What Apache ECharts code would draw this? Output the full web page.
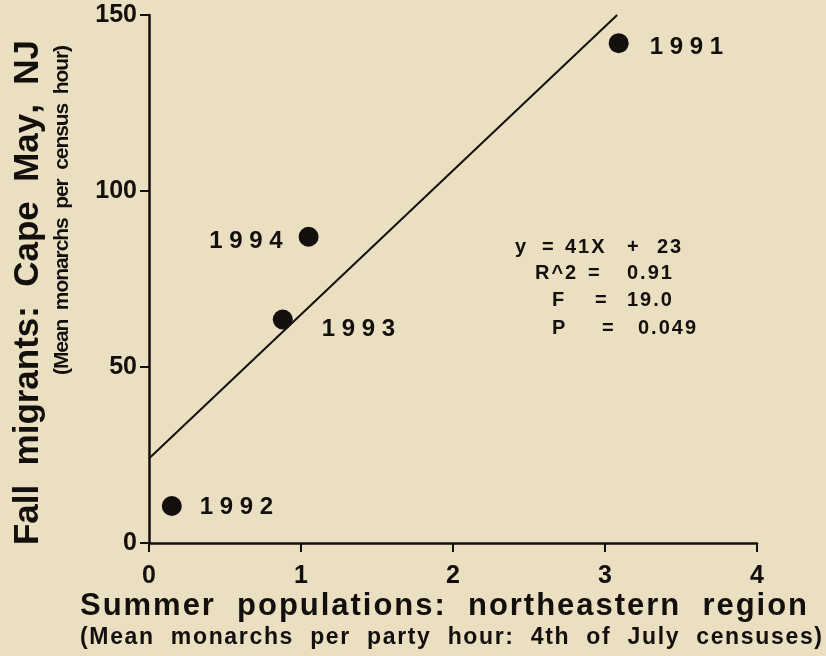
<!DOCTYPE html>
<html>
<head>
<meta charset="utf-8">
<script src="https://cdn.jsdelivr.net/npm/echarts@6/dist/echarts.min.js"></script>
<style>
  html, body { margin: 0; padding: 0; background: #ebdfc1; }
  #chart { width: 826px; height: 656px; }
</style>
</head>
<body>
<div id="chart"></div>
<script>
// survey years and values
var years = ['1991', '1994', '1993', '1992'];
var summerX = [3.09, 1.05, 0.88, 0.15];   // mean monarchs per party hour
var fallY = [142, 87, 63.5, 10.5];         // mean monarchs per census hour
var fitX = [0, 3.08];                      // regression line ends
var fitY = [24, 150];
var xTicks = [0, 1, 2, 3, 4];
var yTicks = [0, 50, 100, 150];
var xTitle = 'Summer  populations:  northeastern  region';
var xSub = '(Mean  monarchs  per  party  hour:  4th  of  July  censuses)';
var yTitle = 'Fall  migrants:  Cape  May,  NJ';
var ySub = '(Mean  monarchs  per  census  hour)';
var statTokens = [
  ['y', '=', '41X', '+', '23'],
  ['R^2', '=', '0.91'],
  ['F', '=', '19.0'],
  ['P', '=', '0.049']
];

var ink = '#130f0d';
var fam = '"Liberation Sans", Arial, sans-serif';
var myChart = echarts.init(document.getElementById('chart'));
var mctx = document.createElement('canvas').getContext('2d');

// the original lettering is spaced out, so text is set one glyph at a time
function charWidths(str, font) {
  mctx.font = font;
  return str.split('').map(function (c) { return mctx.measureText(c).width; });
}
function tracked(str, font, x0, y, track) {
  var w = charWidths(str, font), out = [], x = x0;
  for (var i = 0; i < str.length; i++) {
    if (str[i] !== ' ') {
      out.push({ type: 'text', x: x, y: y, silent: true,
        style: { text: str[i], font: font, fill: ink, verticalAlign: 'middle' } });
    }
    x += w[i] + track;
  }
  return out;
}
function fitted(str, font, x0, y, width) {
  var w = charWidths(str, font), sum = 0;
  w.forEach(function (v) { sum += v; });
  return tracked(str, font, x0, y, (width - sum) / (str.length - 1));
}

var pts = [];
for (var i = 0; i < years.length; i++) {
  pts.push({ value: [summerX[i], fallY[i]], name: years[i] });
}

var graphics = [];
graphics = graphics.concat(fitted(xTitle, 'bold 31px ' + fam, 80, 606, 727));
graphics = graphics.concat(fitted(xSub, 'bold 23px ' + fam, 80, 638, 742));
graphics.push({ type: 'group', x: 28, y: 545, rotation: Math.PI / 2,
  children: fitted(yTitle, 'bold 35px ' + fam, 0, 0, 505) });
graphics.push({ type: 'group', x: 62, y: 375, rotation: Math.PI / 2,
  children: fitted(ySub, 'bold 21px ' + fam, 0, 0, 330) });

// left edge of every token in the fit box, one row per line
var tokX = [[515, 542, 565, 627, 657], [535, 588, 627], [552, 595, 627], [552, 602, 638]];
var rowY = [247, 273, 300, 328];
statTokens.forEach(function (row, r) {
  row.forEach(function (tok, k) {
    graphics = graphics.concat(tracked(tok, 'bold 20px ' + fam, tokX[r][k], rowY[r], 2));
  });
});

var option = {
  backgroundColor: '#ebdfc1',
  animation: false,
  grid: { left: 149, right: 69, top: 15, bottom: 113, containLabel: false },
  xAxis: {
    type: 'value', min: xTicks[0], max: xTicks[xTicks.length - 1], interval: 1,
    axisLine: { lineStyle: { color: ink, width: 2.5 } },
    axisTick: { show: true, length: 9, lineStyle: { color: ink, width: 2 } },
    splitLine: { show: false },
    axisLabel: { color: ink, fontFamily: fam, fontWeight: 'bold', fontSize: 25, margin: 21 }
  },
  yAxis: {
    type: 'value', min: yTicks[0], max: yTicks[yTicks.length - 1], interval: 50,
    axisLine: { show: true, lineStyle: { color: ink, width: 2.5 } },
    axisTick: { show: true, length: 9, lineStyle: { color: ink, width: 2 } },
    splitLine: { show: false },
    axisLabel: { color: ink, fontFamily: fam, fontWeight: 'bold', fontSize: 25, margin: 12 }
  },
  series: [{
    type: 'line',
    data: [[fitX[0], fitY[0]], [fitX[1], fitY[1]]],
    symbol: 'none',
    lineStyle: { color: ink, width: 2 },
    z: 2
  }, {
    type: 'scatter',
    data: pts,
    symbolSize: 20,
    itemStyle: { color: ink, opacity: 1 },
    label: {
      show: true,
      formatter: function (p) { return p.name.split('').join(' '); },
      color: ink, fontFamily: fam, fontWeight: 'bold', fontSize: 24,
      position: 'right'
    },
    labelLayout: function (p) {
      var cx = p.rect.x + p.rect.width / 2, cy = p.rect.y + p.rect.height / 2;
      // label offsets from the dot, as printed
      var off = [[31, 4, 'left'], [-26, 5, 'right'], [39, 10, 'left'], [28, 1, 'left']][p.dataIndex];
      return { x: cx + off[0], y: cy + off[1], align: off[2], verticalAlign: 'middle' };
    },
    z: 3
  }],
  graphic: graphics
};
myChart.setOption(option);
</script>
</body>
</html>
